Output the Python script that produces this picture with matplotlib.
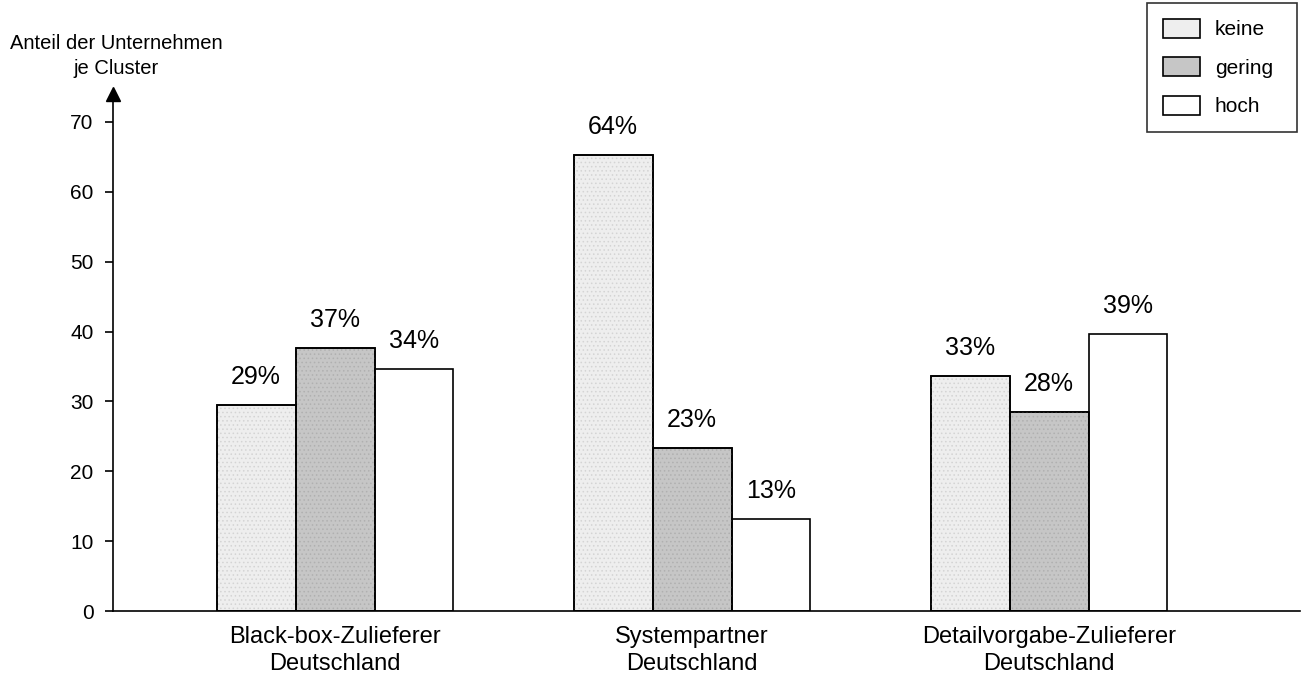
import matplotlib.pyplot as plt
import numpy as np

plt.rcParams['font.family'] = ['Liberation Sans', 'DejaVu Sans']
plt.rcParams['hatch.linewidth'] = 0.6

# data
clusters = ["Black-box-Zulieferer\nDeutschland", "Systempartner\nDeutschland",
            "Detailvorgabe-Zulieferer\nDeutschland"]
series = ["keine", "gering", "hoch"]
keine = [29.5, 65.3, 33.6]
gering = [37.7, 23.4, 28.5]
hoch = [34.6, 13.2, 39.7]
labels_keine = ["29%", "64%", "33%"]
labels_gering = ["37%", "23%", "28%"]
labels_hoch = ["34%", "13%", "39%"]
yticks = [0, 10, 20, 30, 40, 50, 60, 70]

fig = plt.figure(figsize=(13.02, 6.75), dpi=100)
ax = fig.add_axes([0.0868, 0.0948, 0.9117, 0.766])

x = np.arange(len(clusters))
w = 0.221
styles = [("#eeeeee", "#d4d4d4", "...."), ("#c6c6c6", "#b0b0b0", "...."), ("white", None, None)]
values = [keine, gering, hoch]
pct = [labels_keine, labels_gering, labels_hoch]

for i, (vals, (fc, hc, hatch)) in enumerate(zip(values, styles)):
    pos = x + (i - 1) * w
    bars = ax.bar(pos, vals, width=w, facecolor=fc, edgecolor="black", linewidth=1.2,
                  label=series[i], zorder=2)
    if hatch:
        # fine dot texture drawn on top of the fill
        ax.bar(pos, vals, width=w, facecolor="none", edgecolor=hc, hatch=hatch,
               linewidth=0, zorder=2.5)
        ax.bar(pos, vals, width=w, facecolor="none", edgecolor="black", linewidth=1.2,
               zorder=3)
    for b, t in zip(bars, pct[i]):
        ax.annotate(t, (b.get_x() + b.get_width() / 2, b.get_height()),
                    xytext=(0, 20), textcoords="offset points",
                    ha="center", va="center", fontsize=18)

ax.set_xlim(-0.622, 2.703)
ax.set_ylim(0, 74)
ax.set_yticks(yticks)
ax.tick_params(axis="y", direction="out", length=6, width=1.2, labelsize=15, pad=8)
ax.set_xticks(x)
ax.set_xticklabels(clusters, fontsize=17, linespacing=1.25)
ax.tick_params(axis="x", length=0, pad=11)

for s in ["top", "right"]:
    ax.spines[s].set_visible(False)
ax.spines["left"].set_linewidth(1.2)
ax.spines["bottom"].set_linewidth(1.2)
ax.plot(0, 1, marker="^", markersize=10, color="black", transform=ax.transAxes,
        clip_on=False, zorder=5)

fig.text(116 / 1302, 1 - 56 / 675, "Anteil der Unternehmen\nje Cluster", ha="center",
         va="center", fontsize=14.5, linespacing=1.4)

leg = ax.legend(loc="upper left", bbox_to_anchor=(1147 / 1302, 1 - 127 / 675, 150 / 1302, 124 / 675),
                bbox_transform=fig.transFigure, mode="expand", borderaxespad=0,
                fontsize=15, frameon=True, fancybox=False,
                edgecolor="black", handlelength=1.8, handleheight=1.05,
                labelspacing=0.85, borderpad=0.75, handletextpad=0.7)
leg.get_frame().set_linewidth(1.2)

fig.savefig("out.png", dpi=100, facecolor="white")
